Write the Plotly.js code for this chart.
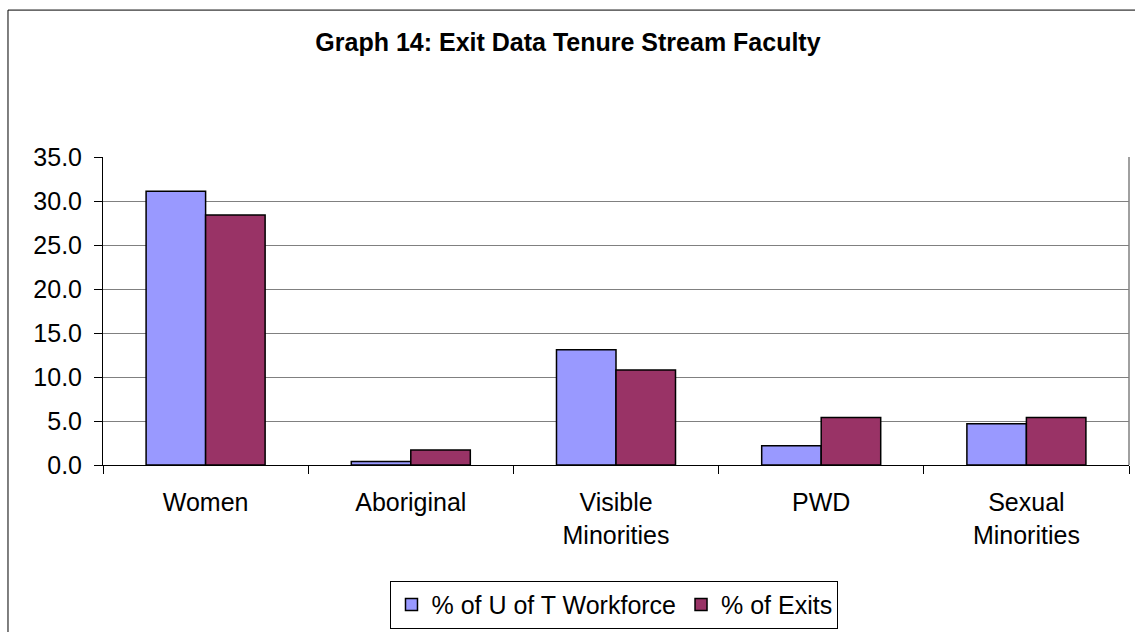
<!DOCTYPE html>
<html>
<head>
<meta charset="utf-8">
<script src="https://cdn.plot.ly/plotly-3.0.1.min.js"></script>
<style>
html,body{margin:0;padding:0;background:#fff;overflow:hidden;}
#chart{width:1135px;height:632px;}
</style>
</head>
<body>
<div id="chart"></div>
<script>
var categories = ["Women", "Aboriginal", "Visible<br>Minorities", "PWD", "Sexual<br>Minorities"];
var workforce = [31.1, 0.4, 13.1, 2.2, 4.7];
var exits = [28.4, 1.7, 10.8, 5.4, 5.4];
var seriesNames = ["% of U of T Workforce", "% of Exits"];
var tickVals = [0, 5, 10, 15, 20, 25, 30, 35];
var tickText = ["0.0", "5.0", "10.0", "15.0", "20.0", "25.0", "30.0", "35.0"];

var FONT = "Arial, 'Liberation Sans', sans-serif";

var traces = [
  {
    type: "bar", x: categories, y: workforce, name: seriesNames[0],
    marker: {color: "#9999FF", line: {color: "#000000", width: 1.5}}
  },
  {
    type: "bar", x: categories, y: exits, name: seriesNames[1],
    marker: {color: "#993366", line: {color: "#000000", width: 1.5}}
  }
];

var layout = {
  width: 1135, height: 632,
  margin: {l: 103, r: 6, t: 157, b: 167},
  paper_bgcolor: "#ffffff", plot_bgcolor: "#ffffff",
  font: {family: FONT, color: "#000000", size: 25},
  title: {
    text: "<b>Graph 14: Exit Data Tenure Stream Faculty</b>",
    font: {family: FONT, size: 25, color: "#000000"},
    x: 0.5004, xanchor: "center", xref: "container",
    y: 0.933, yanchor: "middle", yref: "container"
  },
  barmode: "group",
  bargap: 0.42,
  bargroupgap: 0,
  showlegend: true,
  legend: {
    orientation: "h",
    x: 0.5414, xanchor: "center", xref: "container",
    y: 0.005, yanchor: "bottom", yref: "container",
    bordercolor: "#000000", borderwidth: 1,
    font: {family: FONT, size: 25, color: "#000000"},
    itemclick: false, itemdoubleclick: false,
    traceorder: "normal"
  },
  xaxis: {
    type: "category",
    showgrid: false,
    automargin: false,
    showline: true, linecolor: "#000000", linewidth: 1,
    ticks: "outside", tickson: "boundaries", ticklen: 8, tickcolor: "#000000", tickwidth: 1,
    tickfont: {family: FONT, size: 25, color: "#000000"},
    ticklabelstandoff: 15,
    fixedrange: true
  },
  yaxis: {
    range: [0, 35],
    automargin: false,
    tickvals: tickVals, ticktext: tickText,
    showgrid: true, gridcolor: "#808080", gridwidth: 1,
    showline: true, linecolor: "#000000", linewidth: 1,
    ticks: "outside", ticklen: 8, tickcolor: "#000000", tickwidth: 1,
    tickfont: {family: FONT, size: 25, color: "#000000"},
    ticklabelstandoff: 7,
    zeroline: false,
    fixedrange: true
  },
  shapes: [
    {type: "rect", xref: "paper", yref: "paper",
     x0: -0.0926, x1: 1.02, y0: -0.6, y1: 1.477,
     line: {color: "#000000", width: 1}, fillcolor: "rgba(0,0,0,0)", layer: "below"},
    {type: "line", xref: "paper", yref: "paper",
     x0: 1, x1: 1, y0: 0, y1: 1,
     line: {color: "#808080", width: 1.5}}
  ]
};

Plotly.newPlot("chart", traces, layout, {displayModeBar: false, staticPlot: true});
</script>
</body>
</html>
